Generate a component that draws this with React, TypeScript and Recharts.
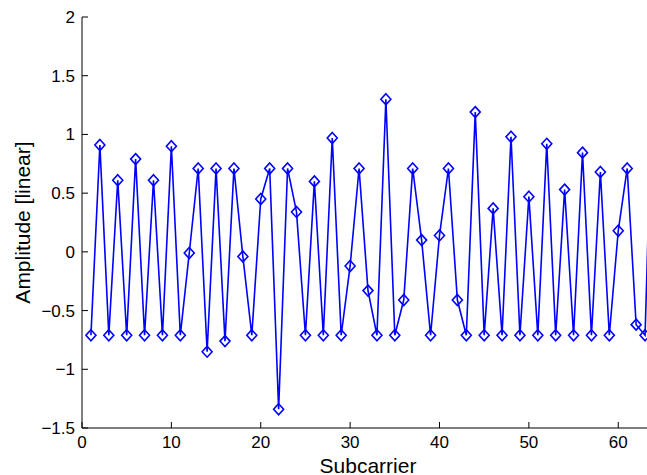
import { LineChart, Line, XAxis, YAxis } from 'recharts';

// subcarrier index and measured amplitude
const subcarriers = [
    1, 2, 3, 4, 5, 6, 7, 8, 9, 10, 11, 12, 13, 14, 15, 16,
    17, 18, 19, 20, 21, 22, 23, 24, 25, 26, 27, 28, 29, 30, 31, 32,
    33, 34, 35, 36, 37, 38, 39, 40, 41, 42, 43, 44, 45, 46, 47, 48,
    49, 50, 51, 52, 53, 54, 55, 56, 57, 58, 59, 60, 61, 62, 63, 64,
];
const amplitude = [
    -0.71, 0.91, -0.71, 0.61, -0.71, 0.79, -0.71, 0.61, -0.71, 0.9, -0.71, -0.01, 0.71, -0.85, 0.71, -0.76,
    0.71, -0.04, -0.71, 0.45, 0.71, -1.34, 0.71, 0.34, -0.71, 0.6, -0.71, 0.97, -0.71, -0.12, 0.71, -0.33,
    -0.71, 1.3, -0.71, -0.41, 0.71, 0.1, -0.71, 0.14, 0.71, -0.41, -0.71, 1.19, -0.71, 0.37, -0.71, 0.98,
    -0.71, 0.47, -0.71, 0.92, -0.71, 0.53, -0.71, 0.845, -0.71, 0.68, -0.71, 0.18, 0.71, -0.62, -0.71, 1.9,
];
const xTicks = [0, 10, 20, 30, 40, 50, 60];
const yTicks = [-1.5, -1, -0.5, 0, 0.5, 1, 1.5, 2];

const data = subcarriers.map((x, i) => ({ x, amp: amplitude[i] }));

const FONT = '"Liberation Sans", Arial, sans-serif';
const fmt = (v: number) => String(v).replace('-', '\u2212');

function BottomTick({ x, y, payload }: any) {
    return (
        <g>
            <line x1={x} x2={x} y1={y - 8} y2={y - 14} stroke="#000" strokeWidth={1} />
            <text x={x} y={y} dy="0.71em" textAnchor="middle" fontSize={17} fill="#000" fontFamily={FONT}>
                {fmt(payload.value)}
            </text>
        </g>
    );
}

function TopTick({ x, y }: any) {
    return <line x1={x} x2={x} y1={y} y2={y + 6} stroke="#000" strokeWidth={1} />;
}

function LeftTick({ x, y, payload }: any) {
    return (
        <g>
            <line x1={x + 7} x2={x + 13} y1={y} y2={y} stroke="#000" strokeWidth={1} />
            <text x={x} y={y} dy="0.355em" textAnchor="end" fontSize={17} fill="#000" fontFamily={FONT}>
                {fmt(payload.value)}
            </text>
        </g>
    );
}

function Diamond({ cx, cy, index }: any) {
    const h = 5;
    return (
        <path
            key={index}
            d={`M${cx},${cy - h - 0.5} L${cx + h},${cy} L${cx},${cy + h + 0.5} L${cx - h},${cy} Z`}
            fill="none"
            stroke="#0000ff"
            strokeWidth={1.6}
        />
    );
}

export default function App() {
    return (
        <div style={{ position: 'absolute', left: 0, top: 0, width: 647, height: 475, overflow: 'hidden', background: '#fff' }}>
            <LineChart
                width={680}
                height={475}
                data={data}
                margin={{ top: 17, right: 26, bottom: 0, left: 0 }}
                style={{ fontFamily: FONT }}
            >
                <XAxis
                    type="number"
                    dataKey="x"
                    domain={[0, 64]}
                    ticks={xTicks}
                    height={47}
                    tickSize={0}
                    tickMargin={8}
                    tick={<BottomTick />}
                    axisLine={{ stroke: '#000', strokeWidth: 1 }}
                    label={{ value: 'Subcarrier', position: 'insideBottom', offset: 2, fontSize: 21, fill: '#000' }}
                />
                <XAxis
                    xAxisId="top"
                    orientation="top"
                    type="number"
                    dataKey="x"
                    domain={[0, 64]}
                    ticks={xTicks}
                    height={0}
                    tickSize={0}
                    tick={<TopTick />}
                    axisLine={{ stroke: '#000', strokeWidth: 1 }}
                />
                <YAxis
                    type="number"
                    domain={[-1.5, 2]}
                    ticks={yTicks}
                    width={82}
                    tickSize={0}
                    tickMargin={7}
                    tick={<LeftTick />}
                    axisLine={{ stroke: '#000', strokeWidth: 1 }}
                    label={{
                        value: 'Amplitude [linear]',
                        angle: -90,
                        position: 'insideLeft',
                        offset: 23,
                        fontSize: 21,
                        fill: '#000',
                        style: { textAnchor: 'middle' },
                    }}
                />
                <Line
                    type="linear"
                    dataKey="amp"
                    stroke="#0000ff"
                    strokeWidth={1.6}
                    dot={Diamond}
                    activeDot={false}
                    isAnimationActive={false}
                />
            </LineChart>
        </div>
    );
}
